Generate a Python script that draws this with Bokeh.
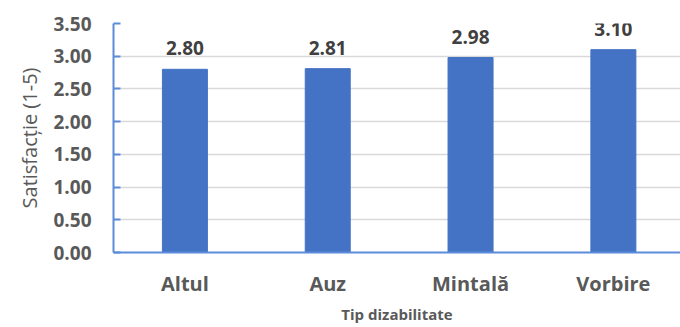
from bokeh.plotting import figure
from bokeh.models import (ColumnDataSource, FixedTicker, LabelSet, Range1d,
                          NumeralTickFormatter)
from bokeh.core.properties import value
from bokeh.embed import file_html
from bokeh.resources import INLINE

# Average satisfaction score per disability type
categories = ["Altul", "Auz", "Mintală", "Vorbire"]
satisfaction = [2.80, 2.81, 2.98, 3.10]
y_ticks = [0.0, 0.5, 1.0, 1.5, 2.0, 2.5, 3.0, 3.5]

xs = list(range(len(categories)))
source = ColumnDataSource(dict(
    x=xs,
    y=satisfaction,
    cat=categories,
    lbl=[f"{v:.2f}" for v in satisfaction],
))

FONT = "Open Sans"
BLUE = "#4472C4"
AXIS_BLUE = "#5B8BD9"
GREY = "#595959"

p = figure(
    width=680, height=327,
    frame_width=567, frame_height=229,
    min_border_left=113, min_border_right=0,
    min_border_top=23, min_border_bottom=75,
    x_range=Range1d(-0.5, 3.47), y_range=Range1d(0, 3.5),
    output_backend="svg", toolbar_location=None,
)
p.outline_line_color = None
p.background_fill_color = "white"
p.border_fill_color = "white"

p.vbar(x="x", top="y", width=0.315, source=source, color=BLUE)

# value labels above the bars
p.add_layout(LabelSet(
    x="x", y="y", text="lbl", source=source,
    text_align="center", text_baseline="bottom", y_offset=14,
    text_font=value(FONT), text_font_style="bold", text_font_size="19px",
    text_color="#404040",
))

# y axis
yax = p.yaxis[0]
yax.ticker = FixedTicker(ticks=y_ticks)
yax.formatter = NumeralTickFormatter(format="0.00")
yax.major_tick_in = 7
yax.major_tick_out = 0
yax.minor_tick_line_color = None
yax.major_tick_line_color = AXIS_BLUE
yax.axis_line_color = AXIS_BLUE
yax.axis_line_width = 2
yax.major_tick_line_width = 2
yax.major_label_standoff = 22
yax.major_label_text_font = FONT
yax.major_label_text_font_style = "bold"
yax.major_label_text_font_size = "19px"
yax.major_label_text_color = GREY
yax.axis_label = "Satisfacție (1-5)"
yax.axis_label_text_font = FONT
yax.axis_label_text_font_style = "normal"
yax.axis_label_text_font_size = "20px"
yax.axis_label_text_color = GREY
yax.axis_label_standoff = 7

# x axis
xax = p.xaxis[0]
xax.ticker = FixedTicker(ticks=xs)
xax.major_label_overrides = {i: c for i, c in zip(xs, categories)}
xax.major_tick_line_color = None
xax.minor_tick_line_color = None
xax.axis_line_color = AXIS_BLUE
xax.axis_line_width = 2
xax.major_label_standoff = 11
xax.major_label_text_font = FONT
xax.major_label_text_font_style = "bold"
xax.major_label_text_font_size = "20px"
xax.major_label_text_color = GREY
xax.axis_label = "Tip dizabilitate"
xax.axis_label_text_font = FONT
xax.axis_label_text_font_style = "bold"
xax.axis_label_text_font_size = "15px"
xax.axis_label_text_color = GREY
xax.axis_label_standoff = 4

p.xgrid.grid_line_color = None
p.ygrid.ticker = FixedTicker(ticks=y_ticks)
p.ygrid.grid_line_color = "#D9D9D9"
p.ygrid.grid_line_width = 1.5

open("out.html", "w").write(file_html(p, INLINE))
